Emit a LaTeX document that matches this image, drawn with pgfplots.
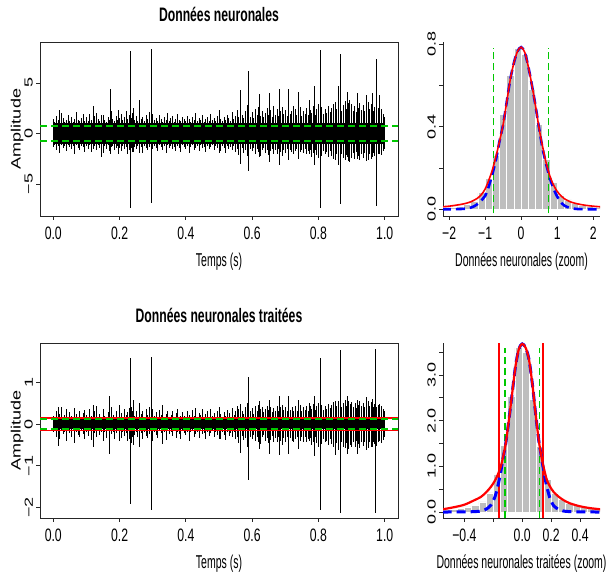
\documentclass[border=0pt]{standalone}
\usepackage{fontspec}
\usepackage{graphicx}
\usepackage{pgfplots}
\usepackage{pgfplotstable}
\pgfplotsset{compat=1.18}
\setmainfont{Liberation Sans}
\newfontfamily\tickfont[FakeStretch=0.68]{Liberation Sans}
\newfontfamily\labfont[FakeStretch=0.565]{Liberation Sans}
\newfontfamily\titfont[FakeStretch=0.625]{Liberation Sans}
\newcommand\ry[1]{\scalebox{1}[0.65]{#1}}
\definecolor{rgreen}{RGB}{0,200,0}
\definecolor{hgray}{RGB}{190,190,190}

\pgfplotstableread{
t h1 l1 h2 l2
0.000 1.4 -1.3 .20 -.20
0.005 1.1 -1.1 .15 -.16
0.010 1.7 -1.6 .30 -.30
0.015 1.3 -1.2 .18 -.18
0.020 1.2 -1.9 .25 -.35
0.025 2.0 -1.1 .40 -.17
0.030 1.5 -1.4 .16 -.25
0.035 1.1 -1.2 .22 -.20
0.040 1.3 -1.7 .35 -.40
0.045 1.8 -1.1 .17 -.15
0.050 1.2 -1.3 .28 -.22
0.055 1.6 -1.5 .20 -.30
0.060 1.1 -1.2 .15 -.17
0.065 1.4 -2.0 .38 -.45
0.070 2.1 -1.1 .24 -.19
0.075 1.3 -1.4 .18 -.26
0.080 1.2 -1.6 .30 -.32
0.085 1.5 -1.2 .16 -.16
0.090 1.9 -1.3 .26 -.24
0.095 1.2 -1.8 .33 -.36
0.100 1.6 -1.2 .22 -.18
0.105 1.2 -1.5 .17 -.28
0.110 1.9 -1.1 .35 -.16
0.115 1.3 -1.8 .20 -.38
0.120 1.1 -1.3 .15 -.20
0.125 1.7 -1.2 .30 -.22
0.130 2.0 -1.6 .42 -.30
0.135 1.4 -1.1 .18 -.15
0.140 1.2 -1.4 .25 -.27
0.145 1.5 -1.3 .16 -.20
0.150 1.8 -1.9 .36 -.40
0.155 1.3 -1.2 .20 -.18
0.160 1.1 -1.5 .15 -.33
0.165 1.6 -1.1 .28 -.16
0.170 1.3 -1.7 .19 -.30
0.175 2.2 -1.3 .40 -.24
0.180 1.4 -1.2 .22 -.20
0.185 1.2 -1.6 .17 -.35
0.190 1.7 -1.4 .32 -.22
0.195 1.3 -1.2 .18 -.17
0.200 1.5 -1.4 .30 -.25
0.205 1.9 -1.7 .26 -.34
0.210 1.3 -1.2 .18 -.18
0.215 1.6 -1.5 .35 -.28
0.220 2.2 -1.3 .22 -.22
0.225 1.4 -2.0 .28 -.40
0.230 1.8 -1.6 .38 -.36
0.235 1.5 -1.4 .40 -.45
0.240 2.0 -1.8 .30 -.30
0.245 1.3 -1.3 .20 -.26
0.250 1.7 -1.5 .32 -.20
0.255 1.2 -1.2 .18 -.30
0.260 1.9 -1.7 .42 -.38
0.265 1.4 -1.3 .25 -.22
0.270 1.6 -1.9 .30 -.35
0.275 1.2 -1.2 .17 -.18
0.280 1.8 -1.4 .36 -.28
0.285 1.4 -1.6 .22 -.33
0.290 2.1 -1.3 .40 -.24
0.295 1.6 -1.8 .45 -.50
0.300 1.9 -1.5 .35 -.40
0.305 1.3 -1.2 .20 -.20
0.310 1.5 -1.4 .28 -.26
0.315 1.2 -1.7 .16 -.33
0.320 1.8 -1.1 .33 -.17
0.325 1.4 -1.3 .21 -.22
0.330 1.1 -1.6 .40 -.30
0.335 1.6 -1.2 .18 -.18
0.340 1.3 -1.9 .25 -.38
0.345 2.0 -1.1 .30 -.16
0.350 1.2 -1.4 .17 -.25
0.355 1.5 -1.2 .22 -.20
0.360 1.7 -1.5 .32 -.28
0.365 1.1 -1.3 .15 -.17
0.370 1.4 -1.7 .26 -.34
0.375 1.9 -1.2 .35 -.19
0.380 1.3 -1.4 .18 -.24
0.385 1.2 -1.8 .20 -.36
0.390 1.6 -1.1 .28 -.16
0.395 1.4 -1.3 .19 -.21
0.400 1.2 -1.5 .17 -.27
0.405 1.7 -1.2 .30 -.18
0.410 1.4 -1.9 .22 -.40
0.415 1.1 -1.3 .16 -.20
0.420 1.6 -1.1 .33 -.16
0.425 1.3 -1.6 .20 -.30
0.430 2.0 -1.4 .38 -.25
0.435 1.2 -1.2 .18 -.18
0.440 1.5 -1.7 .26 -.33
0.445 1.3 -1.1 .21 -.17
0.450 1.8 -1.4 .35 -.24
0.455 1.1 -1.3 .15 -.22
0.460 1.4 -1.8 .24 -.36
0.465 1.6 -1.2 .30 -.19
0.470 1.2 -1.5 .17 -.28
0.475 1.9 -1.3 .36 -.21
0.480 1.3 -1.1 .19 -.16
0.485 1.5 -1.6 .27 -.32
0.490 1.2 -1.2 .18 -.20
0.495 1.7 -1.4 .31 -.26
0.500 2.0 -1.5 .40 -.30
0.505 1.4 -1.7 .25 -.35
0.510 1.2 -1.2 .18 -.20
0.515 1.6 -1.4 .28 -.26
0.520 1.3 -1.9 .20 -.38
0.525 1.8 -1.2 .33 -.18
0.530 1.5 -1.5 .26 -.28
0.535 1.2 -1.3 .17 -.22
0.540 2.1 -1.6 .38 -.32
0.545 1.4 -1.2 .22 -.20
0.550 1.7 -1.8 .30 -.36
0.555 2.3 -1.5 .42 -.30
0.560 1.6 -2.1 .35 -.45
0.565 2.5 -1.7 .45 -.40
0.570 1.8 -1.4 .30 -.28
0.575 1.5 -1.9 .25 -.38
0.580 2.2 -1.6 .40 -.34
0.585 2.8 -2.2 .50 -.55
0.590 2.0 -1.8 .42 -.45
0.595 1.6 -1.5 .30 -.30
0.600 2.1 -1.7 .38 -.36
0.605 1.5 -1.4 .25 -.26
0.610 2.4 -2.0 .42 -.40
0.615 1.8 -1.5 .30 -.30
0.620 2.6 -1.8 .45 -.42
0.625 1.7 -2.2 .35 -.48
0.630 2.2 -1.6 .40 -.32
0.635 1.6 -1.4 .28 -.26
0.640 2.0 -1.9 .36 -.40
0.645 2.5 -1.6 .42 -.34
0.650 1.8 -2.1 .33 -.45
0.655 2.3 -1.7 .40 -.38
0.660 1.6 -1.5 .28 -.28
0.665 2.1 -1.9 .38 -.42
0.670 1.8 -1.6 .30 -.34
0.675 2.4 -2.0 .44 -.44
0.680 1.7 -1.5 .32 -.30
0.685 2.2 -1.8 .40 -.40
0.690 2.6 -2.2 .46 -.50
0.695 1.9 -1.6 .34 -.33
0.700 2.3 -1.9 .40 -.42
0.705 1.7 -1.5 .30 -.30
0.710 2.5 -2.1 .44 -.46
0.715 1.9 -1.6 .33 -.34
0.720 2.2 -1.8 .40 -.40
0.725 1.6 -2.0 .30 -.44
0.730 2.4 -1.7 .42 -.36
0.735 1.8 -1.5 .32 -.30
0.740 2.1 -2.2 .38 -.48
0.745 2.6 -1.8 .46 -.40
0.750 1.7 -1.6 .30 -.32
0.755 2.2 -1.9 .40 -.42
0.760 1.9 -1.5 .34 -.30
0.765 2.5 -2.0 .44 -.44
0.770 1.8 -1.7 .32 -.36
0.775 2.3 -1.6 .42 -.34
0.780 2.0 -2.3 .36 -.50
0.785 2.7 -1.9 .48 -.42
0.790 1.8 -1.6 .33 -.32
0.795 2.4 -2.1 .44 -.46
0.800 2.9 -2.4 .50 -.55
0.805 2.2 -1.9 .42 -.44
0.810 2.6 -2.2 .46 -.48
0.815 1.9 -1.7 .34 -.36
0.820 2.4 -2.0 .44 -.44
0.825 2.0 -1.8 .36 -.40
0.830 2.7 -2.3 .48 -.50
0.835 2.1 -1.7 .38 -.36
0.840 2.5 -2.2 .45 -.48
0.845 2.9 -2.5 .52 -.55
0.850 3.1 -2.6 .56 -.60
0.855 2.4 -2.0 .44 -.46
0.860 3.0 -2.8 .55 -.62
0.865 2.6 -2.3 .48 -.52
0.870 2.2 -2.0 .40 -.44
0.875 2.8 -2.4 .50 -.54
0.880 3.2 -2.6 .58 -.58
0.885 2.4 -2.1 .44 -.46
0.890 3.0 -2.7 .55 -.60
0.895 2.6 -2.2 .48 -.50
0.900 2.9 -2.4 .52 -.54
0.905 2.2 -1.9 .40 -.42
0.910 2.7 -2.5 .50 -.56
0.915 2.1 -1.8 .38 -.40
0.920 2.5 -2.2 .46 -.48
0.925 3.0 -2.6 .55 -.58
0.930 2.3 -2.0 .42 -.44
0.935 2.8 -2.4 .50 -.52
0.940 2.2 -1.9 .40 -.42
0.945 2.6 -2.3 .48 -.50
0.950 3.1 -2.6 .56 -.58
0.955 2.4 -2.0 .44 -.44
0.960 2.9 -2.5 .52 -.55
0.965 2.2 -1.9 .40 -.42
0.970 2.6 -2.2 .48 -.48
0.975 2.1 -2.4 .40 -.52
0.980 2.5 -2.0 .46 -.44
0.985 2.0 -1.8 .38 -.40
0.990 2.4 -2.1 .44 -.46
0.995 1.9 -1.7 .36 -.38
1.000 1.6 -1.5 .30 -.30
}\sig

\pgfplotstableread{
t h l
0.018 2.3 -1.7
0.120 2.7 -1.5
0.145 1.8 -2.3
0.173 4.4 -2.0
0.197 2.3 -2.0
0.232 8.2 -7.4
0.241 2.5 -1.8
0.261 3.3 -1.9
0.297 8.4 -6.9
0.503 2.3 -1.9
0.566 4.3 -3.0
0.589 6.2 -3.7
0.623 3.9 -2.3
0.651 4.0 -2.8
0.663 2.7 -2.0
0.683 4.4 -3.1
0.709 4.4 -2.6
0.724 2.7 -1.9
0.740 4.1 -2.5
0.774 3.3 -2.0
0.789 4.7 -3.1
0.806 8.3 -7.4
0.844 2.7 -2.2
0.859 4.7 -3.1
0.867 7.9 -7.0
0.889 4.1 -2.3
0.895 3.3 -2.8
0.918 4.0 -2.5
0.945 3.8 -2.7
0.963 4.0 -2.3
0.975 7.4 -7.2
0.985 3.8 -2.0
}\spkA

\pgfplotstableread{
t h l
0.017 0.40 -0.52
0.120 0.45 -0.55
0.171 0.66 -0.71
0.200 0.46 -0.40
0.232 1.59 -1.92
0.241 0.58 -0.50
0.261 0.50 -0.55
0.297 1.61 -2.06
0.330 0.45 -0.48
0.503 0.40 -0.35
0.566 0.48 -0.69
0.589 1.13 -1.34
0.623 0.54 -0.59
0.651 0.58 -0.71
0.683 0.68 -0.75
0.709 0.66 -0.71
0.740 0.58 -0.59
0.774 0.50 -0.40
0.789 0.68 -0.77
0.806 1.59 -2.06
0.852 0.56 -0.75
0.866 1.77 -2.12
0.889 0.66 -0.71
0.918 0.58 -0.71
0.945 0.64 -0.63
0.963 0.60 -0.55
0.973 1.79 -2.12
0.985 0.48 -0.40
}\spkB

\pgfplotsset{
  panel/.style={
    scale only axis, anchor=south west, clip=true,
    tick align=outside, major tick length=4pt,
    axis line style={line width=0.8pt, black!85},
    every tick/.style={line width=0.8pt, black!85},
    xticklabel style={font=\fontsize{18}{18}\tickfont, inner sep=0pt},
    yticklabel style={font=\fontsize{18}{18}\selectfont, rotate=90, anchor=south, inner sep=0pt},
    xticklabel shift=7pt, yticklabel shift=3pt,
    every axis x label/.style={at={(axis description cs:0.5,0)}, anchor=base, yshift=-51pt, font=\fontsize{18.6}{18.6}\labfont},
    every axis title/.style={at={(axis description cs:0.5,1)}, anchor=base, yshift=20.5pt, font=\fontsize{19.5}{19.5}\titfont\bfseries},
    every axis y label/.style={at={(axis description cs:-0.064,0.5)}, rotate=90, anchor=center, font=\fontsize{18}{18}\selectfont},
  },
  sigp/.style={panel, width=358pt, xmin=-0.04, xmax=1.04, tick pos=left,
    xtick={0,0.2,0.4,0.6,0.8,1}, xticklabels={0.0,0.2,0.4,0.6,0.8,1.0},
    xlabel={Temps (s)}, ylabel={\scalebox{1}[0.75]{Amplitude}}},
  histp/.style={panel, width=157pt, axis x line*=bottom, axis y line*=left},
}

\begin{document}
\begin{tikzpicture}[x=1pt,y=1pt]
\path[use as bounding box] (0,0) rectangle (608,580);

% ---------- Panel 1 ----------
\begin{axis}[sigp, at={(40pt,364pt)}, height=174pt,
  ymin=-8.15, ymax=9.05, ytick={-5,0,5}, yticklabels={\ry{−5},\ry{0},\ry{5}},
  title={Données neuronales}]
\addplot[ycomb, black, line width=0.9pt, mark=none] table[x=t, y=h1] {\sig};
\addplot[ycomb, black, line width=0.9pt, mark=none] table[x=t, y=l1] {\sig};
\addplot[ycomb, black, line width=1pt, mark=none] table[x=t, y=h] {\spkA};
\addplot[ycomb, black, line width=1pt, mark=none] table[x=t, y=l] {\spkA};
\addplot[fill=black, draw=none] coordinates {(0,-1.0) (1,-1.0) (1,1.0) (0,1.0)} -- cycle;
\addplot[rgreen, line width=1.8pt, dash pattern=on 7pt off 4pt] coordinates {(-0.04,0.76) (1.04,0.76)};
\addplot[rgreen, line width=1.8pt, dash pattern=on 7pt off 4pt] coordinates {(-0.04,-0.77) (1.04,-0.77)};
\end{axis}

% ---------- Panel 2 ----------
\begin{axis}[histp, at={(443pt,364pt)}, height=174pt,
  xmin=-2.17, xmax=2.19, ymin=-0.0325, ymax=0.81,
  xtick={-2,-1,0,1,2}, xticklabels={−2,−1,0,1,2},
  ytick={0,0.2,0.4,0.6,0.8}, yticklabels={\ry{0.0},,\ry{0.4},,\ry{0.8}},
  xlabel={Données neuronales (zoom)}]
\addplot[ybar interval, fill=hgray, draw=white, line width=0.6pt] coordinates {
(-2.2,0.010) (-2.0,0.012) (-1.8,0.016) (-1.6,0.022) (-1.4,0.040) (-1.2,0.080)
(-1.0,0.150) (-0.8,0.260) (-0.6,0.460) (-0.4,0.650) (-0.2,0.780) (0.0,0.750)
(0.2,0.580) (0.4,0.410) (0.6,0.240) (0.8,0.130) (1.0,0.070) (1.2,0.045)
(1.4,0.030) (1.6,0.020) (1.8,0.014) (2.0,0.010) (2.2,0)};
\addplot[rgreen, line width=1.5pt, dash pattern=on 7pt off 4pt] coordinates {(-0.77,-0.02) (-0.77,0.78)};
\addplot[rgreen, line width=1.5pt, dash pattern=on 7pt off 4pt] coordinates {(0.76,-0.02) (0.76,0.78)};
\addplot[blue, line width=2.6pt, dash pattern=on 9pt off 5pt, smooth] coordinates {
(-2.2,0.0) (-1.8,0.0005) (-1.5,0.004) (-1.3,0.015) (-1.15,0.035) (-1.0,0.065)
(-0.9,0.11) (-0.8,0.17) (-0.7,0.24) (-0.6,0.33) (-0.5,0.41) (-0.4,0.52) (-0.3,0.63)
(-0.2,0.71) (-0.1,0.765) (0,0.785) (0.1,0.76) (0.2,0.69) (0.3,0.60) (0.4,0.50)
(0.5,0.39) (0.6,0.29) (0.7,0.215) (0.8,0.15) (0.9,0.10) (1.0,0.062) (1.1,0.035)
(1.2,0.018) (1.35,0.007) (1.6,0.001) (2.2,0.0)};
\addplot[red, line width=1.6pt, smooth] coordinates {
(-2.2,0.012) (-2.0,0.015) (-1.8,0.02) (-1.6,0.026) (-1.4,0.036) (-1.2,0.055)
(-1.1,0.072) (-1.0,0.098) (-0.9,0.14) (-0.8,0.19) (-0.7,0.255) (-0.6,0.33)
(-0.5,0.41) (-0.4,0.52) (-0.3,0.63) (-0.2,0.71) (-0.1,0.765) (0,0.785) (0.1,0.76)
(0.2,0.69) (0.3,0.60) (0.4,0.50) (0.5,0.39) (0.6,0.30) (0.7,0.22) (0.8,0.16)
(0.9,0.117) (1.0,0.087) (1.1,0.066) (1.2,0.051) (1.4,0.034) (1.6,0.025)
(1.8,0.019) (2.0,0.015) (2.2,0.012)};
\end{axis}

% ---------- Panel 3 ----------
\begin{axis}[sigp, at={(40pt,62pt)}, height=175pt,
  ymin=-2.25, ymax=1.94, ytick={-2,-1,0,1}, yticklabels={\ry{−2},\ry{−1},\ry{0},\ry{1}},
  title={Données neuronales traitées}]
\addplot[ycomb, black, line width=0.8pt, mark=none] table[x=t, y=h2] {\sig};
\addplot[ycomb, black, line width=0.8pt, mark=none] table[x=t, y=l2] {\sig};
\addplot[ycomb, black, line width=1pt, mark=none] table[x=t, y=h] {\spkB};
\addplot[ycomb, black, line width=1pt, mark=none] table[x=t, y=l] {\spkB};
\addplot[fill=black, draw=none] coordinates {(0,-0.13) (1,-0.13) (1,0.13) (0,0.13)} -- cycle;
\addplot[red, line width=1.1pt] coordinates {(-0.04,0.144) (1.04,0.144)};
\addplot[red, line width=1.1pt] coordinates {(-0.04,-0.16) (1.04,-0.16)};
\addplot[rgreen, line width=1.8pt, dash pattern=on 7pt off 4pt] coordinates {(-0.04,0.118) (1.04,0.118)};
\addplot[rgreen, line width=1.8pt, dash pattern=on 7pt off 4pt] coordinates {(-0.04,-0.118) (1.04,-0.118)};
\end{axis}

% ---------- Panel 4 ----------
\begin{axis}[histp, at={(443pt,62pt)}, height=175pt,
  xmin=-0.548, xmax=0.538, ymin=-0.131, ymax=3.70,
  xtick={-0.4,-0.2,0,0.2,0.4}, xticklabels={−0.4,,0.0,0.2,0.4},
  ytick={0,0.5,1,1.5,2,2.5,3,3.5}, yticklabels={\ry{0.0},,\ry{1.0},,\ry{2.0},,\ry{3.0},},
  xlabel={Données neuronales traitées (zoom)}]
\addplot[ybar interval, fill=hgray, draw=white, line width=0.6pt] coordinates {
(-0.55,0.06) (-0.50,0.07) (-0.45,0.09) (-0.40,0.11) (-0.35,0.15) (-0.30,0.22)
(-0.25,0.42) (-0.20,0.82) (-0.15,1.45) (-0.10,2.53) (-0.05,3.60) (0.00,3.50)
(0.05,2.47) (0.10,1.43) (0.15,0.71) (0.20,0.42) (0.25,0.27) (0.30,0.20)
(0.35,0.14) (0.40,0.10) (0.45,0.08) (0.50,0.06) (0.55,0)};
\addplot[red, line width=1.4pt] coordinates {(-0.16,-0.131) (-0.16,3.70)};
\addplot[red, line width=1.4pt] coordinates {(0.144,-0.131) (0.144,3.70)};
\addplot[rgreen, line width=1.5pt, dash pattern=on 7pt off 4pt] coordinates {(-0.118,-0.131) (-0.118,3.6)};
\addplot[rgreen, line width=1.5pt, dash pattern=on 7pt off 4pt] coordinates {(0.118,-0.131) (0.118,3.6)};
\addplot[blue, line width=3pt, dash pattern=on 9pt off 5pt, smooth] coordinates {
(-0.55,0) (-0.4,0.002) (-0.32,0.01) (-0.28,0.025) (-0.25,0.06) (-0.217,0.15)
(-0.19,0.32) (-0.17,0.55) (-0.15,0.85) (-0.137,1.1) (-0.114,1.5) (-0.092,2.02)
(-0.069,2.61) (-0.046,3.2) (-0.023,3.57) (0,3.68) (0.023,3.6) (0.046,3.35)
(0.069,2.83) (0.092,2.17) (0.114,1.58) (0.137,1.12) (0.15,0.88) (0.167,0.6)
(0.19,0.32) (0.217,0.14) (0.25,0.06) (0.28,0.025) (0.32,0.01) (0.4,0.002) (0.54,0)};
\addplot[red, line width=2.2pt, smooth] coordinates {
(-0.55,0.06) (-0.48,0.10) (-0.40,0.16) (-0.33,0.26) (-0.286,0.33) (-0.25,0.43)
(-0.217,0.55) (-0.19,0.68) (-0.17,0.81) (-0.15,0.98) (-0.137,1.14) (-0.114,1.5)
(-0.092,2.02) (-0.069,2.61) (-0.046,3.2) (-0.023,3.57) (0,3.68) (0.023,3.6)
(0.046,3.35) (0.069,2.83) (0.092,2.17) (0.114,1.58) (0.137,1.14) (0.167,0.74)
(0.19,0.57) (0.217,0.44) (0.25,0.34) (0.286,0.26) (0.33,0.19) (0.40,0.125)
(0.47,0.085) (0.54,0.06)};
\end{axis}
\end{tikzpicture}
\end{document}
